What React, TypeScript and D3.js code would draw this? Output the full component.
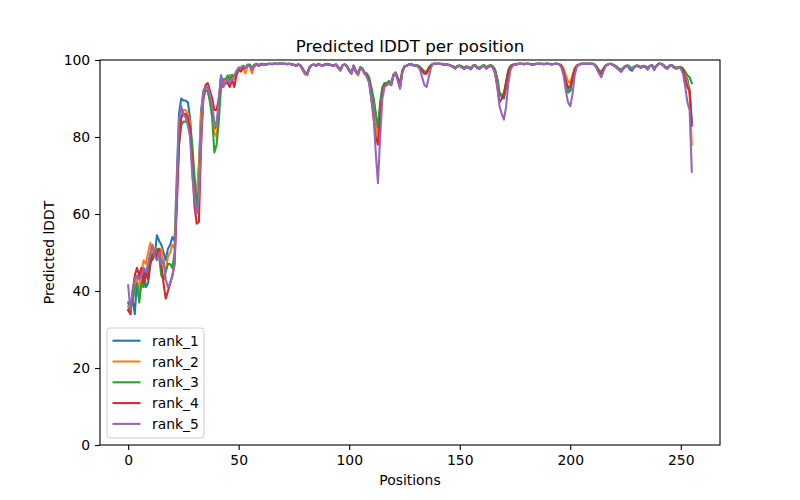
import React, { useEffect, useRef } from 'react';
import * as d3 from 'd3';

// per-residue pLDDT for the five ranked models (positions 0..255)
const rank1 = [
  37, 35, 38, 34, 43, 44, 41, 46, 41, 42, 47, 50, 49, 54.5, 53, 52,
  50, 48, 51, 52, 54, 53, 70, 86, 90, 89.5, 89.5, 89, 85, 76, 66, 64,
  73, 87, 92, 93, 92, 90, 86, 82, 83, 88, 96, 94, 95, 94, 96, 96,
  95.5, 97, 98, 98, 98.5, 98, 98.5, 98.5, 97.5, 98.5, 98.8, 98.5, 98.8, 98.9, 98.8, 98.9,
  99, 98.9, 99, 99, 99, 99, 99, 99, 98.9, 99, 98.8, 98.7, 98.5, 98.8, 98.5, 97.5,
  96.5, 96.3, 98, 98.6, 98.8, 98.5, 98.9, 98.7, 98.5, 98.8, 98.9, 98.8, 98.6, 98.5, 98.8, 98,
  97.3, 98.6, 98.8, 98.3, 97.2, 96.5, 98.5, 97, 96.3, 98, 97.6, 96.5, 96, 95, 92, 90,
  86, 81, 88, 92.5, 94, 93.5, 94.5, 93.5, 96, 96.5, 95, 93, 97, 98.3, 98.5, 98.8,
  98.9, 98.6, 98.5, 98.5, 98, 97.2, 96.5, 96.5, 97.8, 98.6, 99, 99, 99, 99, 98.9, 98.8,
  98.8, 98.7, 98.5, 98.2, 97.8, 98.3, 98.5, 98.1, 97.7, 98.2, 98, 97.6, 98.4, 98.6, 97.9, 97.7,
  98.3, 98.5, 97.8, 98.2, 98.5, 98, 97.3, 95, 91, 90.5, 90, 93, 97, 98.3, 98.7, 98.8,
  98.9, 99, 99, 98.9, 99, 99, 98.9, 98.8, 98.9, 99, 99, 99, 98.9, 99, 99, 98.9,
  98.9, 99, 99, 98.9, 98.5, 97, 94, 92.5, 92, 95, 97.5, 98.5, 98.8, 99, 99, 99,
  99, 99, 99, 98.8, 98, 97, 96.5, 97.5, 98.5, 98.8, 99, 98.8, 98.5, 98, 97.5, 97,
  97.8, 98.3, 98.5, 97.5, 97.2, 98.2, 98.5, 98.3, 98, 98.4, 98.2, 97.5, 98.4, 98.6, 97.4, 98.5,
  99, 99, 98.7, 98, 97.8, 98.5, 98.6, 98, 97.8, 98, 97.9, 97.3, 96, 95, 92, 84,
];

const rank2 = [
  36, 34, 39, 42, 43, 40, 45, 48, 47, 50, 52.5, 50, 51, 49, 50, 51,
  47, 45, 49, 50, 52, 51, 66, 82, 86, 87, 87, 86, 84, 75, 68, 64,
  72, 86, 91, 93, 92, 90, 87, 81, 80, 87, 95, 94, 95, 94, 96, 95,
  95, 97, 98, 97.5, 98, 96.5, 98.5, 98.5, 96.5, 98.3, 98.8, 98.5, 98.8, 98.9, 98.8, 98.9,
  99, 98.9, 99, 99, 99, 99, 99, 99, 98.9, 99, 98.8, 98.7, 98.5, 98.8, 98.5, 97.3,
  96.3, 96, 98, 98.6, 98.8, 98.5, 98.9, 98.7, 98.5, 98.8, 98.9, 98.8, 98.6, 98.5, 98.8, 98,
  97.3, 98.6, 98.8, 98.3, 97.2, 96.5, 98.5, 96.8, 96, 98, 97.5, 96.3, 96, 95, 92, 88,
  84, 80, 87, 92, 93.5, 93.5, 94, 93.5, 96, 96.5, 95, 93, 97, 98.3, 98.5, 98.8,
  98.9, 98.6, 98.5, 98.5, 98, 97.5, 97, 97, 98, 98.6, 99, 99, 99, 99, 98.9, 98.8,
  98.8, 98.7, 98.5, 98.2, 98, 98.4, 98.5, 98.3, 97.9, 98.3, 98.1, 97.8, 98.4, 98.6, 98, 97.9,
  98.3, 98.5, 98, 98.4, 98.5, 98.2, 97.3, 95, 91.5, 91, 91, 94, 97, 98.3, 98.7, 98.8,
  98.9, 99, 99, 98.9, 99, 99, 98.9, 98.8, 98.9, 99, 99, 99, 98.9, 99, 99, 98.9,
  98.9, 99, 99, 98.9, 98.7, 97.8, 96, 94.5, 94, 96, 98, 98.5, 98.8, 99, 99, 99,
  99, 99, 99, 98.8, 98, 97, 96.5, 97.5, 98.5, 98.8, 99, 98.8, 98.5, 98, 97.5, 97,
  97.8, 98.3, 98.5, 98, 97.6, 98.2, 98.5, 98.3, 98, 98.4, 98.2, 97.8, 98.4, 98.6, 97.7, 98.5,
  99, 99, 98.7, 98, 97.8, 98.5, 98.6, 98, 97.8, 98, 97.9, 97.3, 96, 94, 91, 78,
];

const rank3 = [
  35, 36, 37, 41, 42, 37, 42, 41, 44, 46, 49, 48, 50, 51, 49, 44,
  43, 45, 47, 47, 46, 50, 64, 78, 83, 84, 84, 84, 83, 78, 70, 62,
  66, 82, 90, 92, 92, 89, 85, 76, 78, 84, 93, 95, 95, 96, 95, 96,
  96, 97, 98, 98, 98.5, 98, 98.8, 98.8, 98, 98.8, 99, 98.8, 99, 99, 98.9, 99,
  99, 99, 99.1, 99, 99, 99.1, 99, 99, 99, 99, 98.9, 98.8, 98.7, 98.9, 98.6, 97.8,
  96.8, 96.6, 98.2, 98.7, 98.9, 98.6, 99, 98.8, 98.6, 98.9, 99, 98.9, 98.7, 98.6, 98.9, 98.2,
  97.5, 98.7, 98.9, 98.5, 97.5, 96.8, 98.6, 97.3, 96.6, 98.2, 97.8, 96.8, 96.5, 95.5, 93, 90,
  86, 82.5, 89, 93, 94, 94, 94.5, 94, 96.2, 96.8, 95.5, 93.8, 97.3, 98.4, 98.6, 98.9,
  99, 98.7, 98.6, 98.6, 98.2, 97.6, 97, 97, 98, 98.7, 99, 99, 99, 99, 99, 98.9,
  98.9, 98.8, 98.6, 98.4, 98.1, 98.5, 98.6, 98.3, 98, 98.4, 98.2, 97.9, 98.6, 98.7, 98.2, 98,
  98.5, 98.7, 98.2, 98.5, 98.7, 98.4, 97.5, 95, 91.5, 90.5, 91.5, 94.5, 97.5, 98.5, 98.8, 98.9,
  99, 99, 99, 99, 99, 99, 99, 98.9, 99, 99, 99, 99, 99, 99, 99, 99,
  98.9, 99, 99, 98.9, 98.5, 97, 93.5, 91.5, 92, 95, 97.5, 98.5, 98.8, 99, 99, 99,
  99, 99, 99, 98.9, 98.3, 97.4, 97, 97.8, 98.6, 98.9, 99, 98.9, 98.7, 98.3, 97.8, 97.5,
  98, 98.5, 98.6, 98.2, 97.9, 98.4, 98.6, 98.5, 98.2, 98.5, 98.4, 98, 98.5, 98.7, 98, 98.6,
  99, 99, 98.8, 98.3, 98, 98.6, 98.7, 98.3, 98, 98.2, 98.2, 97.8, 97, 96, 95.5, 94,
];

const rank4 = [
  35, 34, 40, 44, 46, 44, 46, 42, 45, 43, 47, 49, 50, 49, 51, 47,
  42, 38, 40, 42, 44, 47, 62, 78, 85, 86, 86, 85, 82, 72, 62, 57.5,
  58, 78, 90, 93.5, 94, 92, 90, 87, 87, 90, 95, 93, 94, 94, 93, 95,
  93, 96, 97.5, 97, 98, 98, 98.5, 98.5, 97.5, 98.5, 98.8, 98.5, 98.8, 98.9, 98.8, 98.9,
  99, 98.9, 99, 99, 99, 99, 99, 99, 98.9, 99, 98.8, 98.7, 98.5, 98.8, 98.5, 97.5,
  96.5, 96.3, 98, 98.6, 98.8, 98.5, 98.9, 98.7, 98.5, 98.8, 98.9, 98.8, 98.6, 98.5, 98.8, 98,
  97.3, 98.6, 98.8, 98.3, 97.2, 96.5, 98.5, 97, 96.3, 98, 97.6, 96.5, 96, 94.5, 90, 85,
  80, 78, 85, 91.5, 93.5, 93.5, 94, 93.5, 96, 96.5, 95, 93, 97, 98.3, 98.5, 98.8,
  98.9, 98.6, 98.5, 98.5, 98, 97.2, 96.5, 96.5, 97.8, 98.6, 99, 99, 99, 99, 98.9, 98.8,
  98.8, 98.7, 98.5, 98.2, 97.8, 98.3, 98.5, 98.1, 97.7, 98.2, 98, 97.6, 98.4, 98.6, 97.9, 97.7,
  98.3, 98.5, 97.8, 98.2, 98.5, 98, 96.5, 93, 89, 90, 91, 94, 97, 98.3, 98.7, 98.8,
  98.9, 99, 99, 98.9, 99, 99, 98.9, 98.8, 98.9, 99, 99, 99, 98.9, 99, 99, 98.9,
  98.9, 99, 99, 98.9, 98.5, 97, 94.5, 93, 93, 95.5, 97.5, 98.5, 98.8, 99, 99, 99,
  99, 99, 99, 98.8, 98, 96.8, 96.2, 97.5, 98.5, 98.8, 99, 98.8, 98.5, 98, 97.5, 97,
  97.8, 98.3, 98.5, 98, 97.6, 98.2, 98.5, 98.3, 98, 98.4, 98.2, 97.8, 98.4, 98.6, 97.7, 98.5,
  99, 99, 98.7, 98, 97.8, 98.5, 98.6, 98, 97.8, 98, 97.9, 97.5, 95, 93, 92, 83,
];

const rank5 = [
  41.5, 35, 40, 43, 44, 43, 44, 46, 45, 47, 50, 52, 49, 48, 50, 47,
  48, 43, 41, 42, 44, 47, 66, 84, 88, 86, 85, 83, 80, 70, 64, 60,
  64, 80, 91, 93, 93, 91, 88, 84, 83, 90, 96, 93, 94, 95, 94, 95,
  96, 97, 98, 98, 98.5, 98, 98.5, 98.5, 97.5, 98.5, 98.8, 98.5, 98.8, 98.9, 98.8, 98.9,
  99, 98.9, 99, 99, 99, 99, 99, 99, 98.9, 99, 98.8, 98.7, 98.5, 98.8, 98.5, 97.5,
  96.5, 96.3, 98, 98.6, 98.8, 98.5, 98.9, 98.7, 98.5, 98.8, 98.9, 98.8, 98.6, 98.5, 98.8, 98,
  97.3, 98.6, 98.8, 98.3, 97.2, 96.5, 98.5, 97, 96.3, 98, 97.6, 96.5, 95.5, 94, 90, 86,
  76, 68, 80, 90, 93, 93.5, 94, 93.5, 96, 96.5, 94.5, 92.5, 96.5, 98.3, 98.5, 98.8,
  98.9, 98.6, 98.5, 98.3, 97.5, 95.5, 93.5, 93, 95.5, 98, 99, 99, 99, 99, 98.9, 98.8,
  98.8, 98.7, 98.5, 98.2, 97.8, 98.3, 98.5, 98.1, 97.7, 98.2, 98, 97.6, 98.4, 98.6, 97.9, 97.7,
  98.3, 98.5, 97.8, 98.2, 98.5, 98, 96.5, 93, 88, 86, 84.5, 88, 94, 97.5, 98.5, 98.8,
  98.9, 99, 99, 98.9, 99, 99, 98.9, 98.8, 98.9, 99, 99, 99, 98.9, 99, 99, 98.9,
  98.9, 99, 99, 98.9, 98, 96, 92, 89, 88, 91, 96, 98.3, 98.8, 99, 99, 99,
  99, 99, 99, 98.8, 97.8, 96.5, 95.5, 97, 98.5, 98.8, 99, 98.8, 98.5, 98, 97.5, 97,
  97.8, 98.3, 98.5, 98, 97.6, 98.2, 98.5, 98.3, 98, 98.4, 98.2, 97.8, 98.4, 98.6, 97.7, 98.5,
  99, 99, 98.7, 98, 97.8, 98.5, 98.6, 98, 97.8, 98, 97.8, 96.5, 93, 89, 87, 71,
];

const seriesNames = ['rank_1', 'rank_2', 'rank_3', 'rank_4', 'rank_5'];
const seriesValues = [rank1, rank2, rank3, rank4, rank5];
const xTicks = [0, 50, 100, 150, 200, 250];
const yTicks = [0, 20, 40, 60, 80, 100];

const App: React.FC = () => {
  const svgRef = useRef<SVGSVGElement>(null);

  useEffect(() => {
    if (!svgRef.current) return;

    const width = 800;
    const height = 500;
    const margin = { top: 60, right: 80, bottom: 55, left: 100 };
    const font = 'DejaVu Sans, sans-serif';

    const svg = d3.select(svgRef.current).attr('width', width).attr('height', height);
    svg.selectAll('*').remove();

    const innerW = width - margin.left - margin.right;
    const innerH = height - margin.top - margin.bottom;

    // matplotlib default 5% margin on x
    const n = rank1.length - 1;
    const pad = n * 0.05;
    const x = d3.scaleLinear().domain([-pad, n + pad]).range([0, innerW]);
    const y = d3.scaleLinear().domain([0, 100]).range([innerH, 0]);

    const color = d3.scaleOrdinal<string>().domain(seriesNames).range(d3.schemeCategory10);

    const g = svg.append('g').attr('transform', `translate(${margin.left},${margin.top})`);

    const line = d3
      .line<number>()
      .x((_, i) => x(i))
      .y((d) => y(d));

    seriesValues.forEach((vals, k) => {
      g.append('path')
        .datum(vals)
        .attr('fill', 'none')
        .attr('stroke', color(seriesNames[k]))
        .attr('stroke-width', 2.08)
        .attr('stroke-linejoin', 'round')
        .attr('stroke-linecap', 'square')
        .attr('d', line);
    });

    // axes
    const xAxis = g
      .append('g')
      .attr('transform', `translate(0,${innerH})`)
      .call(d3.axisBottom(x).tickValues(xTicks).tickSize(4.9).tickPadding(4.9).tickFormat(d3.format('d')));
    const yAxis = g
      .append('g')
      .call(d3.axisLeft(y).tickValues(yTicks).tickSize(4.9).tickPadding(4.9).tickFormat(d3.format('d')));

    [xAxis, yAxis].forEach((ax) => {
      ax.select('.domain').remove();
      ax.selectAll('line').attr('stroke', '#000').attr('stroke-width', 1.1);
      ax.selectAll('text').attr('fill', '#000').style('font-family', font).style('font-size', '13.9px');
    });

    // spines
    g.append('rect')
      .attr('x', 0)
      .attr('y', 0)
      .attr('width', innerW)
      .attr('height', innerH)
      .attr('fill', 'none')
      .attr('stroke', '#000')
      .attr('stroke-width', 1.1);

    // title & labels
    svg.append('text')
      .attr('x', margin.left + innerW / 2)
      .attr('y', margin.top - 8.5)
      .attr('text-anchor', 'middle')
      .style('font-family', font)
      .style('font-size', '16.7px')
      .text('Predicted lDDT per position');

    svg.append('text')
      .attr('x', margin.left + innerW / 2)
      .attr('y', 485)
      .attr('text-anchor', 'middle')
      .style('font-family', font)
      .style('font-size', '13.9px')
      .text('Positions');

    svg.append('text')
      .attr('transform', `translate(54,${margin.top + innerH / 2}) rotate(-90)`)
      .attr('text-anchor', 'middle')
      .style('font-family', font)
      .style('font-size', '13.9px')
      .text('Predicted lDDT');

    // legend, lower left
    const legend = svg.append('g').attr('transform', 'translate(107,328)');
    legend.append('rect')
      .attr('width', 97)
      .attr('height', 110)
      .attr('rx', 3)
      .attr('fill', '#fff')
      .attr('fill-opacity', 0.8)
      .attr('stroke', '#cccccc')
      .attr('stroke-width', 1);

    seriesNames.forEach((name, k) => {
      const rowY = 12.7 + k * 20.8;
      legend.append('line')
        .attr('x1', 5.5)
        .attr('x2', 33.5)
        .attr('y1', rowY)
        .attr('y2', rowY)
        .attr('stroke', color(name))
        .attr('stroke-width', 2.08);
      legend.append('text')
        .attr('x', 45)
        .attr('y', rowY + 5)
        .style('font-family', font)
        .style('font-size', '13.9px')
        .text(name);
    });
  }, []);

  return <svg ref={svgRef} style={{ display: 'block', margin: '-8px' }}></svg>;
};

export default App;
